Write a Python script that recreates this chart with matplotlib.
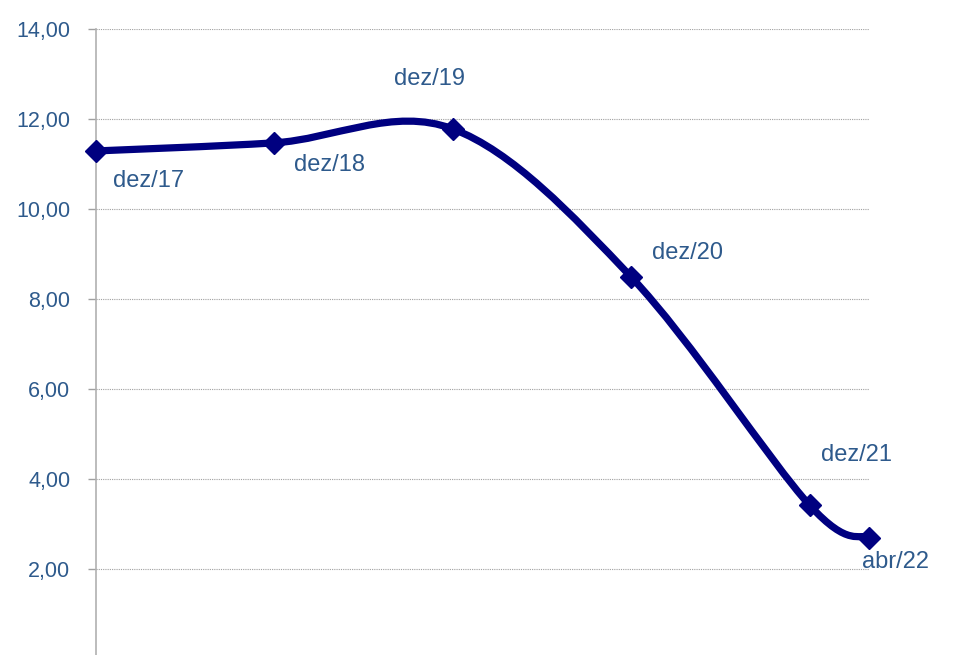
import matplotlib
matplotlib.use("Agg")
import matplotlib.pyplot as plt
from matplotlib.path import Path
from matplotlib.patches import PathPatch
from matplotlib.ticker import FuncFormatter
import numpy as np

plt.rcParams['font.family'] = ['Liberation Sans', 'DejaVu Sans']

# data (x in years since dez/17)
labels = ["dez/17", "dez/18", "dez/19", "dez/20", "dez/21", "abr/22"]
x_years = [0.0, 1.0, 2.0, 3.0, 4.0, 4.0 + 4.0 / 12]
values = [11.29, 11.47, 11.78, 8.49, 3.42, 2.69]

line_color = "#000080"
text_color = "#2E5A8C"

fig = plt.figure(figsize=(9.59, 6.55), dpi=100)
ax = fig.add_axes([96 / 959, 0.0, (869 - 96) / 959, 1 - 29 / 655])

# smoothed line like the spreadsheet one (bezier through the points)
px = np.array(x_years)
py = np.array(values)
n = len(px)
verts = [(px[0], py[0])]
codes = [Path.MOVETO]
for i in range(n - 1):
    i0 = max(i - 1, 0)
    i3 = min(i + 2, n - 1)
    c1 = (px[i] + (px[i + 1] - px[i0]) / 6, py[i] + (py[i + 1] - py[i0]) / 6)
    c2 = (px[i + 1] - (px[i3] - px[i]) / 6, py[i + 1] - (py[i3] - py[i]) / 6)
    verts += [c1, c2, (px[i + 1], py[i + 1])]
    codes += [Path.CURVE4, Path.CURVE4, Path.CURVE4]
patch = PathPatch(Path(verts, codes), facecolor="none", edgecolor=line_color,
                  lw=5.2, capstyle="round", joinstyle="round", zorder=3)
ax.add_patch(patch)
ax.plot(px, py, linestyle="none", marker="D", markersize=11,
        color=line_color, zorder=4, clip_on=False)

# point labels (offsets in pixels, text top-left corner)
offsets = [(17, -19), (20, -11), (-59, 61), (21, 35), (11, 61), (-7, -13)]
for lab, xv, yv, (dx, dy) in zip(labels, x_years, values, offsets):
    ax.annotate(lab, (xv, yv), xytext=(dx, dy), textcoords="offset pixels",
                ha="left", va="top", fontsize=17, color=text_color)

ax.set_xlim(0, x_years[-1])
ax.set_ylim(14 - 626 / 45, 14)
ax.set_yticks(np.arange(2, 15, 2))
ax.yaxis.set_major_formatter(FuncFormatter(lambda v, p: ("%.2f" % v).replace(".", ",")))
ax.set_xticks([])
ax.tick_params(axis="y", colors="#A0A0A0", labelcolor=text_color,
               labelsize=15.5, length=6, width=1, pad=12.5)
ax.grid(axis="y", color="#A0A0A0", linestyle=(0, (1, 1)), linewidth=0.8)
for s in ["top", "right", "bottom"]:
    ax.spines[s].set_visible(False)
ax.spines["left"].set_color("#B0B0B0")
ax.spines["left"].set_linewidth(1.2)

fig.savefig("out.png", dpi=100)
